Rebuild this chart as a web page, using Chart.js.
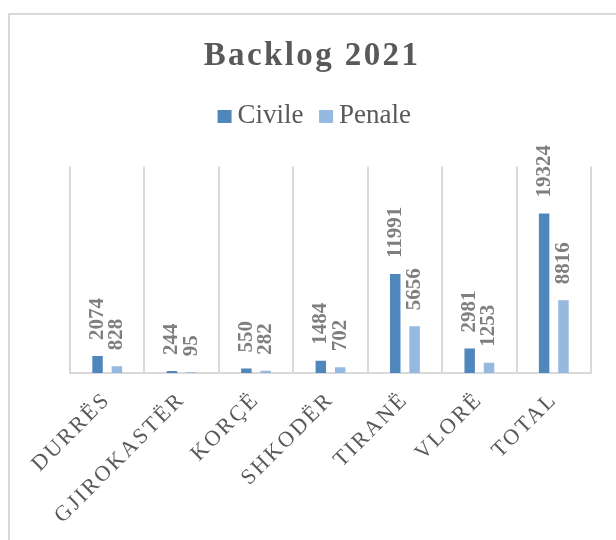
<!DOCTYPE html>
<html><head><meta charset="utf-8">
<script src="https://cdn.jsdelivr.net/npm/chart.js@4.4.1/dist/chart.umd.min.js"></script>
<style>
html,body{margin:0;padding:0;background:#fff;overflow:hidden;width:616px;height:540px}
#frame{position:absolute;left:8px;top:13px;width:1000px;height:1000px;border:2px solid #d9d9d9;box-sizing:border-box}
#c{position:absolute;left:0;top:0}
</style></head><body>
<div id="frame"></div>
<canvas id="c" width="616" height="540"></canvas>
<script>
const chartTitle = 'Backlog 2021';
const categories = ['DURRËS','GJIROKASTËR','KORÇË','SHKODËR','TIRANË','VLORË','TOTAL'];
const seriesNames = ['Civile','Penale'];
const civile = [2074, 244, 550, 1484, 11991, 2981, 19324];
const penale = [828, 95, 282, 702, 5656, 1253, 8816];
const yRange = [0, 25000];
const seriesColors = ['#4f87bc', '#95b9df'];

const SERIF = '"Liberation Serif", "Times New Roman", serif';

// legend swatch images: 14x13 square placed close to its label
function makeSwatch(color) {
  const c = document.createElement('canvas');
  c.width = 26; c.height = 13;
  const g = c.getContext('2d');
  g.fillStyle = color;
  g.fillRect(7, 0, 14, 13);
  return c;
}
const swatches = seriesColors.map(makeSwatch);

const spacingPlugin = {
  id: 'spacing',
  afterInit(chart) {
    const lg = chart.legend;
    if (lg) {
      const origFit = lg.fit;
      lg.fit = function (...a) {
        const ctx = chart.ctx;
        const prev = ctx.letterSpacing;
        ctx.letterSpacing = '0px';
        try { return origFit.apply(this, a); } finally { ctx.letterSpacing = prev; }
      };
      const origDraw = lg.draw;
      lg.draw = function (...a) {
        const ctx = chart.ctx;
        ctx.save();
        ctx.letterSpacing = '0px';
        ctx.translate(5, 0);
        try { return origDraw.apply(this, a); } finally { ctx.restore(); }
      };
    }
  },
  beforeLayout(chart) { chart.ctx.letterSpacing = '2.4px'; },
  beforeDraw(chart) { chart.ctx.letterSpacing = '2.4px'; }
};

const valueLabels = {
  id: 'valueLabels',
  afterDatasetsDraw(chart) {
    const ctx = chart.ctx;
    chart.data.datasets.forEach((ds, di) => {
      const meta = chart.getDatasetMeta(di);
      meta.data.forEach((bar, i) => {
        ctx.save();
        ctx.letterSpacing = '0px';
        ctx.font = 'bold 21px ' + SERIF;
        ctx.fillStyle = '#7f7f7f';
        ctx.translate(bar.x, bar.y - 16);
        ctx.rotate(-Math.PI / 2);
        ctx.textAlign = 'left';
        ctx.textBaseline = 'middle';
        ctx.fillText(String(ds.data[i]), 0, 0);
        ctx.restore();
      });
    });
  }
};

new Chart(document.getElementById('c'), {
  type: 'bar',
  data: {
    labels: categories,
    datasets: [
      { label: seriesNames[0], data: civile, backgroundColor: seriesColors[0], categoryPercentage: 0.52, barPercentage: 0.54 },
      { label: seriesNames[1], data: penale, backgroundColor: seriesColors[1], categoryPercentage: 0.52, barPercentage: 0.54 }
    ]
  },
  options: {
    responsive: false,
    animation: false,
    devicePixelRatio: 1,
    layout: { padding: { left: 33, right: 25, top: 0, bottom: 0 } },
    plugins: {
      title: {
        display: true, text: chartTitle, color: '#595959',
        font: { family: SERIF, size: 33, weight: 'bold', lineHeight: 1.2 },
        padding: { top: 37, bottom: 5 }
      },
      subtitle: {
        display: true, text: '', weight: 500,
        font: { size: 10, lineHeight: 1 },
        padding: { top: 0, bottom: 17 }
      },
      legend: {
        position: 'top',
        labels: {
          color: '#595959',
          font: { family: SERIF, size: 27 },
          usePointStyle: true,
          pointStyleWidth: 1,
          boxHeight: 13,
          padding: 21,
          generateLabels(chart) {
            const items = Chart.defaults.plugins.legend.labels.generateLabels(chart);
            items.forEach((it, i) => { it.pointStyle = swatches[i]; });
            return items;
          }
        }
      },
      tooltip: { enabled: false }
    },
    scales: {
      x: {
        grid: { display: true, offset: true, color: '#d9d9d9', lineWidth: 2, drawTicks: false },
        border: { display: true, color: '#d9d9d9', width: 2 },
        ticks: {
          color: '#595959', font: { family: SERIF, size: 22 },
          minRotation: 45, maxRotation: 45, autoSkip: false, padding: 14
        },
        afterFit(scale) { scale.height -= 3; }
      },
      y: {
        display: true, min: yRange[0], max: yRange[1],
        ticks: { display: false },
        grid: { display: false },
        border: { display: false },
        afterFit(scale) { scale.width = 37; }
      }
    }
  },
  plugins: [spacingPlugin, valueLabels]
});
</script>
</body></html>
